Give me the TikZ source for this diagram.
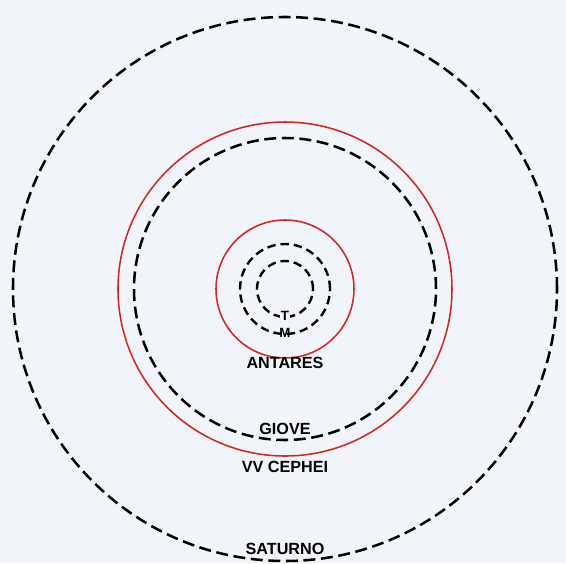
\documentclass[tikz,border=0pt]{standalone}
\usepackage{fontspec}
\setmainfont{Liberation Sans}
\definecolor{sfondo}{RGB}{241,244,248}
\definecolor{rosso}{RGB}{212,38,38}
\tikzset{
  orbita/.style={line width=1.8pt, dash pattern=on 8.5pt off 4pt},
  orbitina/.style={line width=1.7pt, dash pattern=on 6pt off 3.5pt},
  stella/.style={rosso, line width=1.1pt},
  etichetta/.style={font=\fontsize{11.5}{11.5}\selectfont\bfseries, inner sep=1pt},
  sigla/.style={font=\fontsize{9.5}{9.5}\selectfont\bfseries, inner sep=0.5pt}
}
\begin{document}
\begin{tikzpicture}
  % Sfondo
  \fill[sfondo] (-7.125,-6.85) rectangle (7.025,7.225);
  \useasboundingbox (-7.125,-6.85) rectangle (7.025,7.225);
  % Stelle
  \draw[stella] (0,0) circle (4.175);
  \draw[stella] (0,0) circle (1.725);
  % Orbite
  \draw[orbita] (0,0) circle (6.8);
  \draw[orbita] (0,0) circle (3.775);
  \draw[orbitina] (0,0) circle (1.125);
  \draw[orbitina] (0,0) circle (0.7);
  % Nomi
  \node[sigla, fill=sfondo] (terra) at (0,-0.68) {T};
  \node[sigla] (marte) at (0,-1.1) {M};
  \node[etichetta] (antares) at (0,-1.85) {ANTARES};
  \node[etichetta] (giove) at (0,-3.5) {GIOVE};
  \node[etichetta] (cephei) at (0,-4.45) {VV CEPHEI};
  \node[etichetta] (saturno) at (0,-6.5) {SATURNO};
\end{tikzpicture}
\end{document}
